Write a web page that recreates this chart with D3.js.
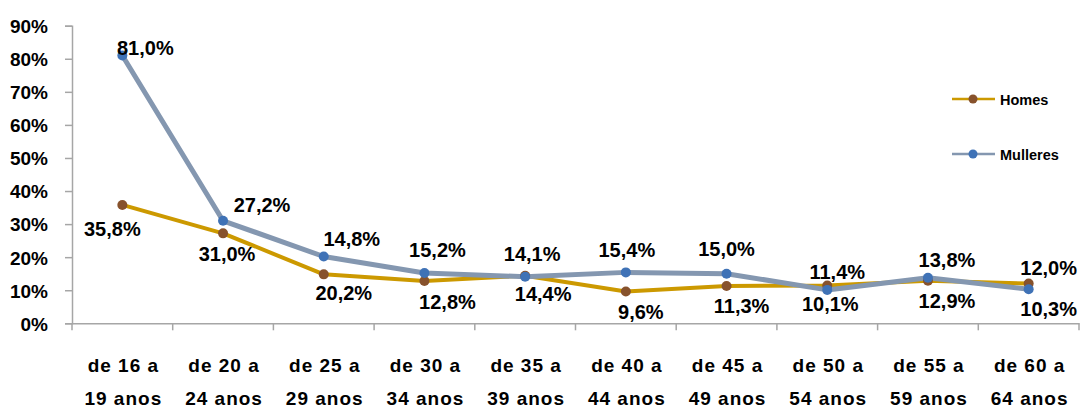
<!DOCTYPE html>
<html><head><meta charset="utf-8">
<script src="https://cdn.jsdelivr.net/npm/d3@7"></script>
<style>
html,body{margin:0;padding:0;background:#fff;}
svg{display:block;font-family:"Liberation Sans",Arial,sans-serif;}
</style></head>
<body><svg id="chart" width="1080" height="408"></svg>
<script>
// ---- data ----
const categories = ["de 16 a\n19 anos","de 20 a\n24 anos","de 25 a\n29 anos","de 30 a\n34 anos","de 35 a\n39 anos","de 40 a\n44 anos","de 45 a\n49 anos","de 50 a\n54 anos","de 55 a\n59 anos","de 60 a\n64 anos"];
const homes    = [35.8, 27.2, 14.8, 12.8, 14.4, 9.6, 11.3, 11.4, 12.9, 12.0];
const mulleres = [81.0, 31.0, 20.2, 15.2, 14.1, 15.4, 15.0, 10.1, 13.8, 10.3];
const yTicks   = [0,10,20,30,40,50,60,70,80,90];
const seriesNames = ["Homes","Mulleres"];

// ---- label layout (pixel nudges relative to each point) ----
const homesLabelNudge    = [[-10,31],[39,-21],[28,-28],[23,28],[18,25],[15,27],[15,27],[10,-7],[19,27],[20,-9]];
const mulleresLabelNudge = [[23,0],[4,40],[20,43],[13,-16],[7,-16],[1,-15],[0,-18],[3,21],[19,-11],[20,27]];

const svg = d3.select("#chart");
const plotLeft = 72, plotRight = 1079, plotTop = 25.7, plotBottom = 323.3;

const x = d3.scaleBand().domain(categories).range([plotLeft, plotRight]).padding(0);
const y = d3.scaleLinear().domain([0, 90]).range([plotBottom, plotTop]);
const cx = c => x(c) + x.bandwidth()/2;

const axisColor = "#A6A6A6";

// y axis
const yAxis = d3.axisLeft(y).tickValues(yTicks).tickSize(7).tickFormat(d => d + "%");
const gy = svg.append("g").attr("transform", `translate(${plotLeft},0)`).call(yAxis);
gy.select(".domain").attr("stroke", axisColor).attr("stroke-width", 1.5);
gy.selectAll(".tick line").attr("stroke", axisColor).attr("stroke-width", 1.5);
gy.selectAll(".tick text")
  .attr("x", -24).attr("dy", "0.36em")
  .attr("font-size", 19).attr("font-weight", "bold").attr("fill", "#000")
  .attr("font-family", "Liberation Sans, Arial, sans-serif");

// x axis
const xAxis = d3.axisBottom(x).tickSize(0).tickFormat("");
const gx = svg.append("g").attr("transform", `translate(0,${plotBottom})`).call(xAxis);
gx.select(".domain").attr("stroke", axisColor).attr("stroke-width", 1.5);
gx.selectAll(".tick").remove();
const boundaries = categories.map(c => x(c)).concat([x(categories[categories.length-1]) + x.bandwidth()]);
gx.selectAll("line.bt").data(boundaries).enter().append("line")
  .attr("class","bt").attr("x1", d => d).attr("x2", d => d).attr("y1", 0).attr("y2", 7)
  .attr("stroke", axisColor).attr("stroke-width", 1.5);

// x labels
const xl = svg.append("g");
categories.forEach(c => {
  const lines = c.split("\n");
  const t = xl.append("text").attr("text-anchor","middle")
    .attr("font-size", 19).attr("font-weight","bold").attr("fill","#000")
    .attr("letter-spacing", "1px");
  lines.forEach((ln, i) => {
    t.append("tspan").attr("x", cx(c) + 1).attr("y", 372 + i*33).text(ln);
  });
});

// lines
const series = [
  {name: seriesNames[0], values: homes, line: "#CC9900", marker: "#87522C", width: 4, nudge: homesLabelNudge},
  {name: seriesNames[1], values: mulleres, line: "#8497B0", marker: "#3F72B6", width: 5, nudge: mulleresLabelNudge}
];
const lineGen = d3.line().x((d,i) => cx(categories[i])).y(d => y(d));

series.forEach(s => {
  svg.append("path").datum(s.values).attr("d", lineGen)
    .attr("fill","none").attr("stroke", s.line).attr("stroke-width", s.width)
    .attr("stroke-linejoin","round");
});
series.forEach(s => {
  svg.append("g").selectAll("circle").data(s.values).enter().append("circle")
    .attr("cx", (d,i) => cx(categories[i])).attr("cy", d => y(d)).attr("r", 5)
    .attr("fill", s.marker);
});

// data labels
const fmt = v => v.toFixed(1).replace(".", ",") + "%";
series.forEach(s => {
  svg.append("g").selectAll("text").data(s.values).enter().append("text")
    .attr("x", (d,i) => cx(categories[i]) + s.nudge[i][0])
    .attr("y", (d,i) => y(d) + s.nudge[i][1])
    .attr("text-anchor","middle").attr("font-size", 20).attr("font-weight","bold")
    .attr("fill","#000").text(d => fmt(d));
});

// legend
const legend = svg.append("g");
series.forEach((s, i) => {
  const ly = 99 + i*55;
  legend.append("line").attr("x1", 952).attr("x2", 995).attr("y1", ly).attr("y2", ly)
    .attr("stroke", s.line).attr("stroke-width", 2.5);
  legend.append("circle").attr("cx", 973).attr("cy", ly).attr("r", 4.5).attr("fill", s.marker);
  legend.append("text").attr("x", 1000).attr("y", ly + 5.5)
    .attr("font-size", 14.5).attr("font-weight","bold").attr("fill","#000").text(s.name);
});
</script></body></html>
